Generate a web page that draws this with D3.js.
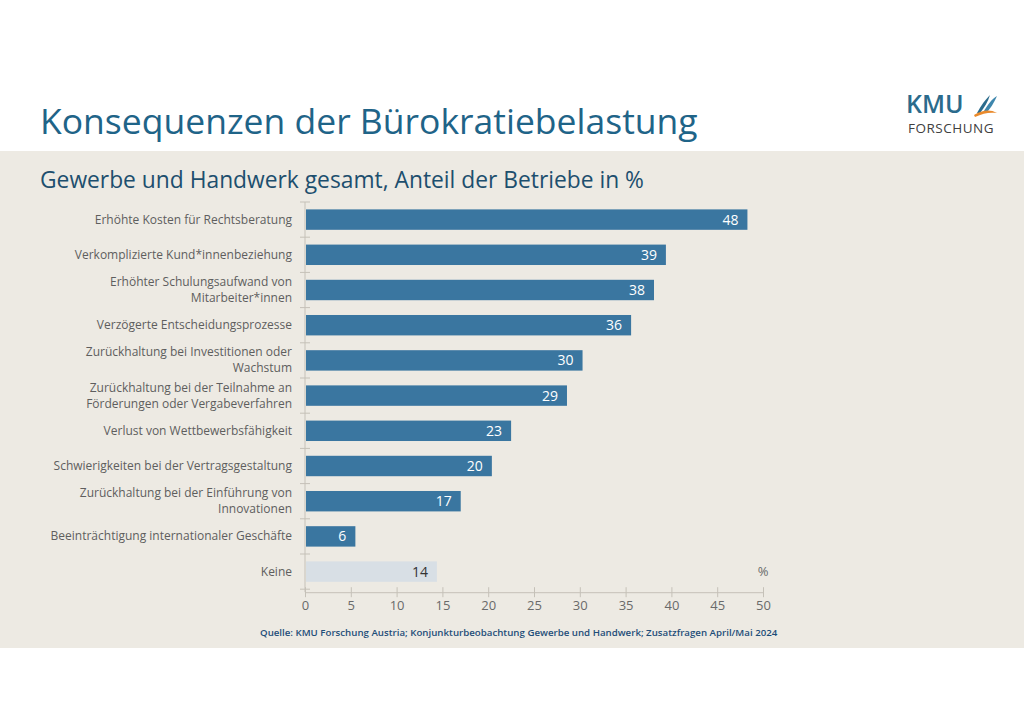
<!DOCTYPE html>
<html>
<head>
<meta charset="utf-8">
<script src="https://cdn.jsdelivr.net/npm/d3@7"></script>
<style>
  body { margin: 0; background: #fff; }
  svg { display: block; }
</style>
</head>
<body>
<div id="chart"></div>
<script>
// Kategorien und Werte (Anteil der Betriebe in %)
const categories = [
    ['Erhöhte Kosten für Rechtsberatung'],
    ['Verkomplizierte Kund*innenbeziehung'],
    ['Erhöhter Schulungsaufwand von', 'Mitarbeiter*innen'],
    ['Verzögerte Entscheidungsprozesse'],
    ['Zurückhaltung bei Investitionen oder', 'Wachstum'],
    ['Zurückhaltung bei der Teilnahme an', 'Förderungen oder Vergabeverfahren'],
    ['Verlust von Wettbewerbsfähigkeit'],
    ['Schwierigkeiten bei der Vertragsgestaltung'],
    ['Zurückhaltung bei der Einführung von', 'Innovationen'],
    ['Beeinträchtigung internationaler Geschäfte'],
    ['Keine']
];
const values = [48.3, 39.4, 38.1, 35.6, 30.3, 28.6, 22.5, 20.4, 17.0, 5.5, 14.4];
const xTicks = [0, 5, 10, 15, 20, 25, 30, 35, 40, 45, 50];

const width = 1024, height = 724;
const svg = d3.select('#chart').append('svg')
    .attr('width', width)
    .attr('height', height);

// Hintergrund
svg.append('rect').attr('width', width).attr('height', height).attr('fill', '#ffffff');
svg.append('rect').attr('x', 0).attr('y', 151).attr('width', width).attr('height', 497).attr('fill', '#edeae3');

// Titel
svg.append('text')
    .attr('x', 40).attr('y', 134)
    .attr('font-family', 'Open Sans, sans-serif')
    .attr('font-size', '35.5px')
    .attr('fill', '#1f6488')
    .text('Konsequenzen der Bürokratiebelastung');

svg.append('text')
    .attr('x', 40).attr('y', 188)
    .attr('font-family', 'Open Sans, sans-serif')
    .attr('font-size', '22.8px')
    .attr('fill', '#1d4f6e')
    .text('Gewerbe und Handwerk gesamt, Anteil der Betriebe in %');

// Logo
const logo = svg.append('g');
logo.append('text')
    .attr('x', 906).attr('y', 113)
    .attr('font-family', 'Open Sans, sans-serif')
    .attr('font-size', '25px')
    .attr('font-weight', '600')
    .attr('fill', '#2b6b8c')
    .text('KMU');
logo.append('text')
    .attr('x', 908).attr('y', 133)
    .attr('font-family', 'Open Sans, sans-serif')
    .attr('font-size', '13.5px')
    .attr('letter-spacing', '0.5px')
    .attr('fill', '#404040')
    .text('FORSCHUNG');
logo.append('path')
    .attr('d', 'M977,113 C981,105 986,99 990,95 C988,102 984,108 980,113 Z')
    .attr('fill', '#2b6b8c');
logo.append('path')
    .attr('d', 'M983,113 C987,105 992,99 997,96 C994,103 990,109 986,113 Z')
    .attr('fill', '#3e86ad');
logo.append('path')
    .attr('d', 'M974,115 C982,110 990,109 997,113 C990,112 983,113 975,117 Z')
    .attr('fill', '#e98a2c');

// Skalen
const margin = {left: 305, top: 202};
const plotW = 458;
const step = 35.2;
const x = d3.scaleLinear().domain([0, 50]).range([margin.left, margin.left + plotW]);
const y = d3.scaleBand()
    .domain(d3.range(categories.length))
    .range([margin.top, margin.top + step * categories.length])
    .paddingInner(0.42)
    .paddingOuter(0.21);

const axisColor = '#c5c1b8';
const yBottom = margin.top + step * categories.length + 3;

// y-Achse mit Trennstrichen
svg.append('line')
    .attr('x1', x(0)).attr('x2', x(0))
    .attr('y1', margin.top).attr('y2', yBottom)
    .attr('stroke', axisColor).attr('stroke-width', 1);
svg.append('g').selectAll('line')
    .data(d3.range(categories.length + 1))
    .enter().append('line')
    .attr('x1', x(0) - 5).attr('x2', x(0) + 5)
    .attr('y1', i => margin.top + i * step)
    .attr('y2', i => margin.top + i * step)
    .attr('stroke', axisColor);

// x-Achse
const xAxis = svg.append('g')
    .attr('transform', `translate(0,${yBottom})`)
    .call(d3.axisBottom(x).tickValues(xTicks).tickSize(5).tickSizeOuter(0).tickPadding(4));
xAxis.select('.domain').attr('stroke', axisColor);
xAxis.selectAll('.tick line').attr('stroke', axisColor).attr('y1', -5);
xAxis.selectAll('.tick text')
    .attr('font-family', 'Open Sans, sans-serif')
    .attr('font-size', '13px')
    .attr('fill', '#6a6a6a');

// Balken
svg.append('g').selectAll('rect')
    .data(values)
    .enter().append('rect')
    .attr('x', x(0) + 1)
    .attr('y', (d, i) => y(i))
    .attr('width', d => x(d) - x(0) - 1)
    .attr('height', y.bandwidth())
    .attr('fill', (d, i) => i === values.length - 1 ? '#d8dfe5' : '#3a76a0');

// Wertbeschriftungen
svg.append('g').selectAll('text')
    .data(values)
    .enter().append('text')
    .attr('x', d => x(d) - 9)
    .attr('y', (d, i) => y(i) + y.bandwidth() / 2)
    .attr('dy', '0.36em')
    .attr('text-anchor', 'end')
    .attr('font-family', 'Open Sans, sans-serif')
    .attr('font-size', '14px')
    .attr('fill', (d, i) => i === values.length - 1 ? '#333333' : '#ffffff')
    .text(d => d3.format('.0f')(d));

// Kategoriebeschriftungen
const lineH = 16;
const labels = svg.append('g').selectAll('text')
    .data(categories)
    .enter().append('text')
    .attr('text-anchor', 'end')
    .attr('font-family', 'Open Sans, sans-serif')
    .attr('font-size', '12px')
    .attr('fill', '#5e5e5e');
labels.each(function(d, i) {
    const cy = y(i) + y.bandwidth() / 2 + 4;
    d3.select(this).selectAll('tspan')
        .data(d)
        .enter().append('tspan')
        .attr('x', 292)
        .attr('y', (t, j) => cy - (d.length - 1) * lineH / 2 + j * lineH)
        .text(t => t);
});

// Einheit
svg.append('text')
    .attr('x', x(50)).attr('y', 576)
    .attr('text-anchor', 'middle')
    .attr('font-family', 'Open Sans, sans-serif')
    .attr('font-size', '13px')
    .attr('fill', '#6a6a6a')
    .text('%');

// Quelle
svg.append('text')
    .attr('x', 260).attr('y', 636)
    .attr('font-family', 'Open Sans, sans-serif')
    .attr('font-size', '9.7px')
    .attr('font-weight', '600')
    .attr('fill', '#1f4e79')
    .text('Quelle: KMU Forschung Austria; Konjunkturbeobachtung Gewerbe und Handwerk; Zusatzfragen April/Mai 2024');
</script>
</body>
</html>
